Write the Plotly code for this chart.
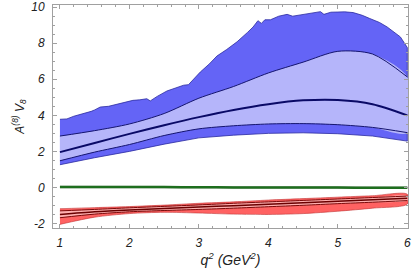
import plotly.graph_objects as go

# ---- data ----
x_grid = [1.0, 1.5, 2.0, 2.5, 3.0, 3.5, 4.0, 4.5, 5.0, 5.5, 6.0]

# blue (outer upper edge is jagged)
blue_up_x = [1.0, 1.1, 1.2, 1.34, 1.45, 1.5, 1.58, 1.7, 1.82, 1.95, 2.05, 2.15, 2.25, 2.3,
             2.4, 2.54, 2.66, 2.78, 2.85, 3.02, 3.15, 3.26, 3.4, 3.55, 3.7, 3.78, 3.85,
             3.9, 3.95, 4.03, 4.15, 4.27, 4.35, 4.5, 4.6, 4.75, 4.8, 4.9, 5.0, 5.1, 5.22,
             5.35, 5.46, 5.6, 5.71, 5.8, 5.9, 6.0]
blue_up = [3.78, 3.80, 3.95, 4.09, 4.22, 4.3, 4.46, 4.5, 4.61, 4.72, 4.83, 4.86, 4.92, 4.80,
           5.05, 5.35, 5.50, 5.67, 5.70, 6.40, 6.85, 7.29, 7.65, 8.08, 8.60, 8.90, 9.25,
           9.10, 9.30, 9.30, 9.50, 9.60, 9.50, 9.60, 9.68, 9.75, 9.60, 9.72, 9.73, 9.74, 9.70,
           9.55, 9.37, 9.15, 8.90, 8.65, 8.35, 7.76]
blue_in_up = [2.85, 3.15, 3.52, 4.10, 4.95, 5.60, 6.35, 6.95, 7.55, 7.40, 6.13]
blue_mid = [1.96, 2.47, 2.97, 3.45, 3.90, 4.30, 4.62, 4.83, 4.85, 4.62, 4.00]
blue_in_lo = [1.48, 1.96, 2.38, 2.88, 3.25, 3.42, 3.52, 3.54, 3.48, 3.33, 3.04]
blue_lo = [1.26, 1.65, 2.00, 2.40, 2.75, 2.90, 3.00, 3.03, 2.98, 2.85, 2.57]

# green
green_mid = [0.03, 0.03, 0.02, 0.02, 0.01, 0.0, 0.0, -0.01, -0.01, -0.02, -0.02]

# red
red_up = [-1.18, -1.12, -1.06, -0.98, -0.88, -0.80, -0.70, -0.62, -0.54, -0.46, -0.38]
red_in_up = [-1.30, -1.22, -1.13, -1.05, -0.97, -0.88, -0.80, -0.72, -0.64, -0.56, -0.48]
red_mid = [-1.50, -1.35, -1.25, -1.17, -1.09, -1.01, -0.93, -0.85, -0.76, -0.68, -0.60]
red_in_lo = [-1.68, -1.48, -1.35, -1.28, -1.22, -1.15, -1.07, -0.99, -0.90, -0.82, -0.73]
red_lo = [-2.05, -1.65, -1.45, -1.38, -1.42, -1.48, -1.50, -1.45, -1.32, -1.15, -0.92]

x_ticks = [1, 2, 3, 4, 5, 6]
y_ticks = [-2, 0, 2, 4, 6, 8, 10]

fig = go.Figure()


def band(xu, yu, xl, yl, fill, edge=None, ew=0.8, shape="linear"):
    fig.add_trace(go.Scatter(
        x=list(xu) + list(xl)[::-1], y=list(yu) + list(yl)[::-1],
        fill="toself", fillcolor=fill, mode="lines",
        line=dict(color=edge if edge else fill, width=ew if edge else 0, shape=shape,
                  smoothing=0.8),
        hoverinfo="skip", showlegend=False))


def line(xs, ys, color, w):
    fig.add_trace(go.Scatter(x=xs, y=ys, mode="lines",
                             line=dict(color=color, width=w, shape="spline", smoothing=0.8),
                             hoverinfo="skip", showlegend=False))


# blue
band(blue_up_x, blue_up, x_grid, blue_lo, "#6464f6", "#2a2aa0", 0.8)
band(x_grid, blue_in_up, x_grid, blue_in_lo, "#b5b5fa", shape="spline")
line(x_grid, blue_in_up, "#15156e", 1)
line(x_grid, blue_in_lo, "#15156e", 1)
line(x_grid, blue_mid, "#0a0a66", 2)

# green
band(x_grid, [v + 0.07 for v in green_mid], x_grid, [v - 0.07 for v in green_mid], "#b8b8b8")
line(x_grid, green_mid, "#1e6e1e", 2.5)

# red
band(x_grid, red_up, x_grid, red_lo, "#ff6262", "#c03030", 0.6, shape="spline")
band(x_grid, red_in_up, x_grid, red_in_lo, "#ffb0b0", shape="spline")
line(x_grid, red_in_up, "#7a0a0a", 1)
line(x_grid, red_in_lo, "#7a0a0a", 1)
line(x_grid, red_mid, "#6a0000", 1.5)

tickfont = dict(family="Liberation Sans", size=12, style="italic", color="#222")
axis_common = dict(showline=True, linecolor="#a0a0a0", linewidth=1, mirror="ticks",
                   ticks="inside", ticklen=4, tickcolor="#a0a0a0", tickwidth=1,
                   showgrid=False, zeroline=False, tickfont=tickfont,
                   automargin=False, ticklabeloverflow="allow")

fig.update_layout(
    width=415, height=278,
    margin=dict(l=53, r=7, t=5, b=50),
    paper_bgcolor="white", plot_bgcolor="white",
    xaxis=dict(range=[0.9, 6.01], tickvals=x_ticks, ticktext=[str(v) for v in x_ticks],
               minor=dict(dtick=0.2, tick0=1, ticks="inside", ticklen=2, tickcolor="#a0a0a0"),
               ticklabelstandoff=4,
               title=dict(text="q<sup>2</sup> (GeV<sup>2</sup>)", standoff=4,
                          font=dict(family="Liberation Sans", size=14, style="italic", color="#222")),
               **axis_common),
    yaxis=dict(range=[-2.25, 10.12], tickvals=y_ticks, ticktext=[str(v) for v in y_ticks],
               minor=dict(dtick=0.5, tick0=0, ticks="inside", ticklen=2, tickcolor="#a0a0a0"),
               ticklabelstandoff=5,
               title=dict(text="A<sup>(8)</sup> V<sub>8</sub>", standoff=4,
                          font=dict(family="Liberation Sans", size=12, style="italic", color="#222")),
               **axis_common),
)

fig.write_html("out.html", config={"displayModeBar": False},
               post_script="document.body.style.margin='0';")
